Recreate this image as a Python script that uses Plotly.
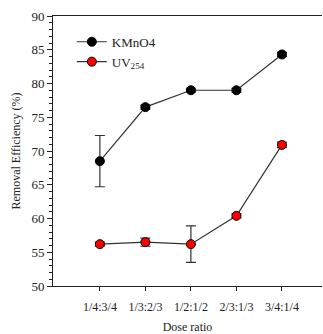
import plotly.graph_objects as go

categories = ["1/4:3/4", "1/3:2/3", "1/2:1/2", "2/3:1/3", "3/4:1/4"]
kmno4 = [68.5, 76.5, 79.0, 79.0, 84.3]
kmno4_err = [3.8, 0.3, 0.3, 0.3, 0.3]
uv254 = [56.2, 56.5, 56.2, 60.4, 70.9]
uv254_err = [0.3, 0.6, 2.7, 0.3, 0.4]
yticks = [50, 55, 60, 65, 70, 75, 80, 85, 90]

FONT = "Liberation Serif, Times New Roman, serif"
xi = list(range(len(categories)))

fig = go.Figure()
fig.add_trace(go.Scatter(
    x=xi, y=kmno4, mode="lines+markers", name="KMnO4",
    line=dict(color="#333333", width=1.2),
    marker=dict(size=9, color="black", line=dict(color="black", width=1)),
    error_y=dict(type="data", array=kmno4_err, color="#333333", thickness=1.2, width=5),
))
fig.add_trace(go.Scatter(
    x=xi, y=uv254, mode="lines+markers", name="UV<sub>254</sub>",
    line=dict(color="#333333", width=1.2),
    marker=dict(size=9, color="red", line=dict(color="black", width=1)),
    error_y=dict(type="data", array=uv254_err, color="#333333", thickness=1.2, width=5),
))

fig.update_layout(
    width=323, height=334,
    margin=dict(l=53, r=1, t=16, b=46),
    paper_bgcolor="white", plot_bgcolor="white",
    font=dict(family=FONT, size=12, color="#222222"),
    showlegend=True,
    legend=dict(x=0.07, y=0.96, xanchor="left", yanchor="top",
                bgcolor="rgba(0,0,0,0)", font=dict(family=FONT, size=13),
                itemwidth=30, tracegroupgap=2),
    xaxis=dict(
        range=[-1.03, 4.88], tickmode="array", tickvals=xi, ticktext=categories,
        showline=True, linecolor="#222222", linewidth=1, mirror=True,
        ticks="outside", ticklen=4, tickcolor="#222222", showgrid=False, zeroline=False,
        ticklabelstandoff=6,
        title=dict(text="Dose ratio", font=dict(family=FONT, size=12), standoff=10),
        tickfont=dict(family=FONT, size=12),
    ),
    yaxis=dict(
        range=[50, 90], tickmode="array", tickvals=yticks,
        showline=True, linecolor="#222222", linewidth=1,
        ticks="outside", ticklen=5, tickcolor="#222222", showgrid=False, zeroline=False,
        minor=dict(dtick=1, ticks="outside", ticklen=3, tickcolor="#222222", showgrid=False),
        title=dict(text="Removal Efficiency (%)", font=dict(family=FONT, size=12), standoff=8),
        tickfont=dict(family=FONT, size=13),
    ),
)

fig.write_html("out.html")
